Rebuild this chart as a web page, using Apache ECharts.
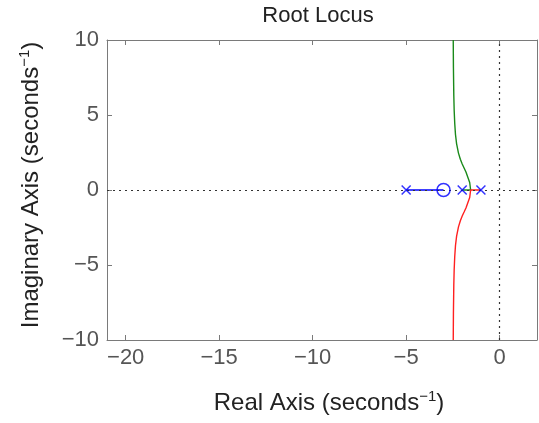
<!DOCTYPE html>
<html><head><meta charset="utf-8">
<script src="https://cdn.jsdelivr.net/npm/echarts@6/dist/echarts.min.js"></script>
<style>html,body{margin:0;padding:0;background:#fff}#c{width:539px;height:423px}</style>
</head><body><div id="c"></div>
<script>
const xTicks = [-20, -15, -10, -5, 0];
const yTicks = [-10, -5, 0, 5, 10];
const poles = [[-5, 0], [-2, 0], [-1, 0]];
const zeros = [[-3, 0]];
const blueBranch = [[-5, 0], [-3, 0]];
const greenBranch = [[-2, 0], [-1.55, 0], [-1.6, 0.5], [-1.7, 0.85], [-1.8, 1.2], [-1.9, 1.47], [-2.0, 1.73], [-2.1, 2.05], [-2.2, 2.46], [-2.3, 3.08], [-2.36, 3.7], [-2.4, 4.43], [-2.43, 5.3], [-2.45, 6.3], [-2.47, 8.15], [-2.48, 10]];
const redBranch = [[-1, 0], [-1.55, 0], [-1.6, -0.5], [-1.7, -0.85], [-1.8, -1.2], [-1.9, -1.47], [-2.0, -1.73], [-2.1, -2.05], [-2.2, -2.46], [-2.3, -3.08], [-2.36, -3.7], [-2.4, -4.43], [-2.43, -5.3], [-2.45, -6.3], [-2.47, -8.15], [-2.48, -10]];
const xRange = [-21, 2];
const yRange = [-10, 10];

const ff = '"Liberation Sans", Arial, sans-serif';
const boxColor = '#7a7a7a';
const labColor = '#555';
const nameRich = {
  a: {fontSize: 24, color: '#222', fontFamily: ff, lineHeight: 28},
  s: {fontSize: 15, color: '#222', fontFamily: ff, verticalAlign: 'top', lineHeight: 12}
};
const fmt = v => (v < 0 ? '−' + Math.abs(v) : '' + v);
const chart = echarts.init(document.getElementById('c'));
const xPath = 'path://M0,0L10,10M10,0L0,10';
chart.setOption({
  animation: false,
  title: {text: 'Root Locus', left: 313, textAlign: 'center', top: 0,
    textStyle: {fontFamily: ff, fontSize: 22, fontWeight: 'normal', color: '#222'}},
  grid: {left: 107, right: 2, top: 40, bottom: 83},
  xAxis: [{
    type: 'value', min: xRange[0], max: xRange[1], position: 'bottom',
    name: '{a|Real Axis (seconds}{s|−1}{a|)}', nameLocation: 'middle', nameGap: 49,
    nameTextStyle: {rich: nameRich, padding: [0, 0, 0, 14]},
    splitLine: {show: false},
    axisLine: {onZero: false, lineStyle: {color: boxColor, width: 1}},
    axisTick: {inside: true, length: 5, customValues: xTicks, lineStyle: {color: boxColor}},
    axisLabel: {customValues: xTicks, color: labColor, fontSize: 22, fontFamily: ff, margin: 7, formatter: fmt}
  }, {
    type: 'value', min: xRange[0], max: xRange[1], position: 'top',
    splitLine: {show: false},
    axisLine: {onZero: false, lineStyle: {color: boxColor, width: 1}},
    axisTick: {inside: true, length: 5, customValues: xTicks, lineStyle: {color: boxColor}},
    axisLabel: {show: false}
  }],
  yAxis: [{
    type: 'value', min: yRange[0], max: yRange[1], interval: 5, position: 'left',
    name: '{a|Imaginary Axis (seconds}{s|−1}{a|)}', nameLocation: 'middle', nameGap: 62,
    nameTextStyle: {rich: nameRich, padding: [0, 0, 0, 10]},
    splitLine: {show: false},
    axisLine: {onZero: false, lineStyle: {color: boxColor, width: 1}},
    axisTick: {inside: true, length: 5, lineStyle: {color: boxColor}},
    axisLabel: {color: labColor, fontSize: 22, fontFamily: ff, margin: 8, formatter: fmt}
  }, {
    type: 'value', min: yRange[0], max: yRange[1], interval: 5, position: 'right',
    splitLine: {show: false},
    axisLine: {onZero: false, lineStyle: {color: boxColor, width: 1}},
    axisTick: {inside: true, length: 5, lineStyle: {color: boxColor}},
    axisLabel: {show: false}
  }],
  series: [
    {type: 'line', data: [], silent: true, z: 1,
      markLine: {silent: true, symbol: 'none', label: {show: false},
        lineStyle: {color: '#333', type: [2, 4], width: 1.2},
        data: [{xAxis: 0}, {yAxis: 0}]}},
    {type: 'line', data: blueBranch, showSymbol: false, lineStyle: {color: '#0000ff', width: 1.5}, z: 4},
    {type: 'line', data: greenBranch, showSymbol: false, lineStyle: {color: '#1a8a1a', width: 1.4}, z: 3},
    {type: 'line', data: redBranch, showSymbol: false, lineStyle: {color: '#ff2020', width: 1.4}, z: 3},
    {type: 'scatter', data: poles, symbol: xPath, symbolSize: 9,
      itemStyle: {color: 'none', borderColor: '#0000ff', borderWidth: 1.5}, z: 5},
    {type: 'scatter', data: zeros, symbol: 'circle', symbolSize: 13,
      itemStyle: {color: 'none', borderColor: '#0000ff', borderWidth: 1.5}, z: 5}
  ]
});
</script></body></html>
